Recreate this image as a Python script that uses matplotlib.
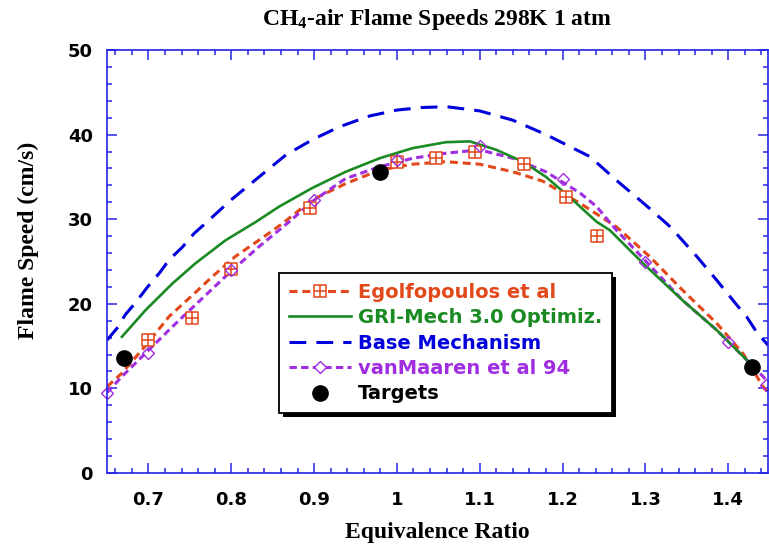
import matplotlib
matplotlib.use("Agg")
import matplotlib.pyplot as plt
import matplotlib.patheffects as pe
from matplotlib.path import Path
from matplotlib.lines import Line2D
from matplotlib.ticker import MultipleLocator, FixedLocator, FixedFormatter

# curves
base_x = [0.65, 0.662, 0.672, 0.685, 0.699, 0.713, 0.725, 0.741, 0.755, 0.771, 0.80, 0.866, 0.898,
          0.930, 0.967, 1.00, 1.03, 1.06, 1.10, 1.14, 1.18, 1.233, 1.265, 1.30, 1.33, 1.362,
          1.386, 1.41, 1.422, 1.434, 1.448]
base_y = [15.7, 17.1, 18.7, 20.2, 22.0, 23.6, 25.2, 26.7, 28.3, 29.7, 32.3, 37.6, 39.4,
          40.9, 42.2, 42.9, 43.2, 43.3, 42.8, 41.7, 40.0, 37.4, 34.6, 31.7, 29.1, 25.6,
          22.8, 19.9, 18.5, 16.7, 15.1]

gri_x = [0.668, 0.697, 0.729, 0.757, 0.793, 0.830, 0.858, 0.898, 0.938, 0.979, 1.019, 1.059,
         1.088, 1.12, 1.152, 1.18, 1.212, 1.241, 1.257, 1.297, 1.345, 1.386, 1.422, 1.43]
gri_y = [16.1, 19.3, 22.4, 24.8, 27.5, 29.7, 31.5, 33.7, 35.6, 37.2, 38.4, 39.1,
         39.2, 38.2, 36.8, 35.0, 32.3, 29.7, 28.7, 24.8, 20.4, 16.9, 13.4, 12.6]

ego_x = [0.65, 0.668, 0.697, 0.725, 0.753, 0.777, 0.805, 0.842, 0.862, 0.898, 0.938, 0.979,
         1.019, 1.059, 1.10, 1.14, 1.176, 1.224, 1.265, 1.305, 1.345, 1.386, 1.418, 1.442, 1.448]
ego_y = [10.2, 11.8, 15.1, 18.5, 21.0, 23.2, 25.6, 28.1, 29.5, 32.3, 34.2, 35.8,
         36.5, 36.8, 36.5, 35.6, 34.5, 31.7, 29.1, 25.6, 21.6, 17.7, 14.1, 10.2, 9.5]

vm_x = [0.65, 0.668, 0.70, 0.729, 0.757, 0.797, 0.834, 0.870, 0.898, 0.938, 0.979, 1.019,
        1.059, 1.10, 1.14, 1.18, 1.221, 1.241, 1.265, 1.297, 1.345, 1.386, 1.426, 1.448]
vm_y = [9.5, 11.4, 14.5, 17.3, 19.9, 23.6, 26.8, 29.7, 32.1, 34.8, 36.2, 37.2,
        37.8, 38.2, 37.2, 35.6, 33.1, 31.5, 28.7, 25.4, 20.4, 16.9, 13.0, 10.8]

# measured points
ego_pts_x = [0.70, 0.753, 0.80, 0.895, 1.00, 1.047, 1.094, 1.154, 1.204, 1.242]
ego_pts_y = [15.7, 18.3, 24.1, 31.3, 36.8, 37.2, 37.9, 36.5, 32.6, 28.0]

vm_pts_x = [0.65, 0.70, 0.80, 0.90, 1.00, 1.10, 1.20, 1.30, 1.40, 1.445]
vm_pts_y = [9.5, 14.2, 24.0, 32.3, 37.0, 38.6, 34.8, 25.0, 15.5, 10.4]

target_x = [0.67, 0.979, 1.4285]
target_y = [13.6, 35.6, 12.5]

x_ticks = [0.7, 0.8, 0.9, 1.0, 1.1, 1.2, 1.3, 1.4]
x_tick_labels = ["0.7", "0.8", "0.9", "1", "1.1", "1.2", "1.3", "1.4"]

c_ego = "#e2481a"
c_gri = "#1a8a22"
c_base = "#0000dc"
c_vm = "#a02ee0"
c_axis = "#2424e6"

plt.rcParams["mathtext.fontset"] = "custom"
plt.rcParams["mathtext.rm"] = "Liberation Serif:bold"
plt.rcParams["mathtext.it"] = "Liberation Serif:bold"

# square with a cross inside
sq_plus = Path([(-1, -1), (1, -1), (1, 1), (-1, 1), (-1, -1), (-1, 0), (1, 0), (0, -1), (0, 1)],
               [Path.MOVETO, Path.LINETO, Path.LINETO, Path.LINETO, Path.CLOSEPOLY,
                Path.MOVETO, Path.LINETO, Path.MOVETO, Path.LINETO])

fig = plt.figure(figsize=(7.69, 5.5), dpi=100)
ax = fig.add_axes([107 / 769, 1 - 473 / 550, 661 / 769, 423 / 550])

ax.plot(base_x, base_y, color=c_base, lw=2.2, dashes=(5.5, 3.3))
ax.plot(ego_x, ego_y, color=c_ego, lw=2.2, dashes=(2.6, 1.6))
ax.plot(vm_x, vm_y, color=c_vm, lw=2.2, dashes=(2.4, 1.4))
ax.plot(gri_x, gri_y, color=c_gri, lw=1.9)
ax.plot(ego_pts_x, ego_pts_y, ls="none", marker=sq_plus, ms=8.5, mfc="white", mec=c_ego, mew=1.1, clip_on=False)
ax.plot(vm_pts_x, vm_pts_y, ls="none", marker="D", ms=6.3, mfc="none", mec=c_vm, mew=1.0, clip_on=False)
ax.plot(target_x, target_y, ls="none", marker="o", ms=11, color="black", clip_on=False, zorder=5)

ax.set_xlim(0.65, 1.448)
ax.set_ylim(0, 50)
ax.xaxis.set_major_locator(FixedLocator(x_ticks))
ax.xaxis.set_major_formatter(FixedFormatter(x_tick_labels))
ax.xaxis.set_minor_locator(MultipleLocator(0.02))
ax.yaxis.set_major_locator(MultipleLocator(10))
ax.yaxis.set_minor_locator(MultipleLocator(2))

for s in ax.spines.values():
    s.set_color(c_axis)
    s.set_linewidth(1.2)
ax.tick_params(which="both", direction="in", top=True, right=True, color=c_axis, width=1.1)
ax.tick_params(which="major", length=7.5)
ax.tick_params(which="minor", length=3.7)
ax.tick_params(axis="x", which="major", pad=13)
ax.tick_params(axis="y", which="major", pad=10)
for lab in ax.get_xticklabels() + ax.get_yticklabels():
    lab.set_fontfamily("DejaVu Sans")
    lab.set_fontweight("bold")
    lab.set_fontsize(13)

serif = dict(family="Liberation Serif", weight="bold", size=17)
ax.set_title(r"CH$_4$-air Flame Speeds 298K 1 atm", pad=18, **serif)
ax.set_xlabel("Equivalence Ratio", labelpad=9, **serif)
ax.set_ylabel("Flame Speed (cm/s)", **serif)
ax.yaxis.set_label_coords(-0.103, 0.55)

h_ego = Line2D([], [], color=c_ego, lw=2.2, dashes=(2.6, 1.6), marker=sq_plus, ms=8.5, mfc="white", mec=c_ego, mew=1.1)
h_gri = Line2D([], [], color=c_gri, lw=1.9)
h_base = Line2D([], [], color=c_base, lw=2.2, dashes=(5.5, 3.3))
h_vm = Line2D([], [], color=c_vm, lw=2.2, dashes=(2.4, 1.4), marker="D", ms=6.3, mfc="white", mec=c_vm, mew=1.0)
h_tg = Line2D([], [], ls="none", marker="o", ms=11, color="black")

leg = ax.legend([h_ego, h_gri, h_base, h_vm, h_tg],
                ["Egolfopoulos et al", "GRI-Mech 3.0 Optimiz.", "Base Mechanism", "vanMaaren et al 94", "Targets"],
                loc="upper left", bbox_to_anchor=((279 - 107) / 661, (473 - 273) / 423),
                borderaxespad=0, numpoints=1, handlelength=3.2, handletextpad=0.35,
                labelspacing=0.33, borderpad=0.5, fancybox=False, framealpha=1,
                prop=dict(family="DejaVu Sans", weight="bold", size=14))
frame = leg.get_frame()
frame.set_edgecolor("black")
frame.set_linewidth(1.3)
frame.set_path_effects([pe.SimplePatchShadow(offset=(3, -3), shadow_rgbFace="black", alpha=1), pe.Normal()])
for txt, c in zip(leg.get_texts(), [c_ego, c_gri, c_base, c_vm, "black"]):
    txt.set_color(c)

fig.savefig("out.png", dpi=100)
